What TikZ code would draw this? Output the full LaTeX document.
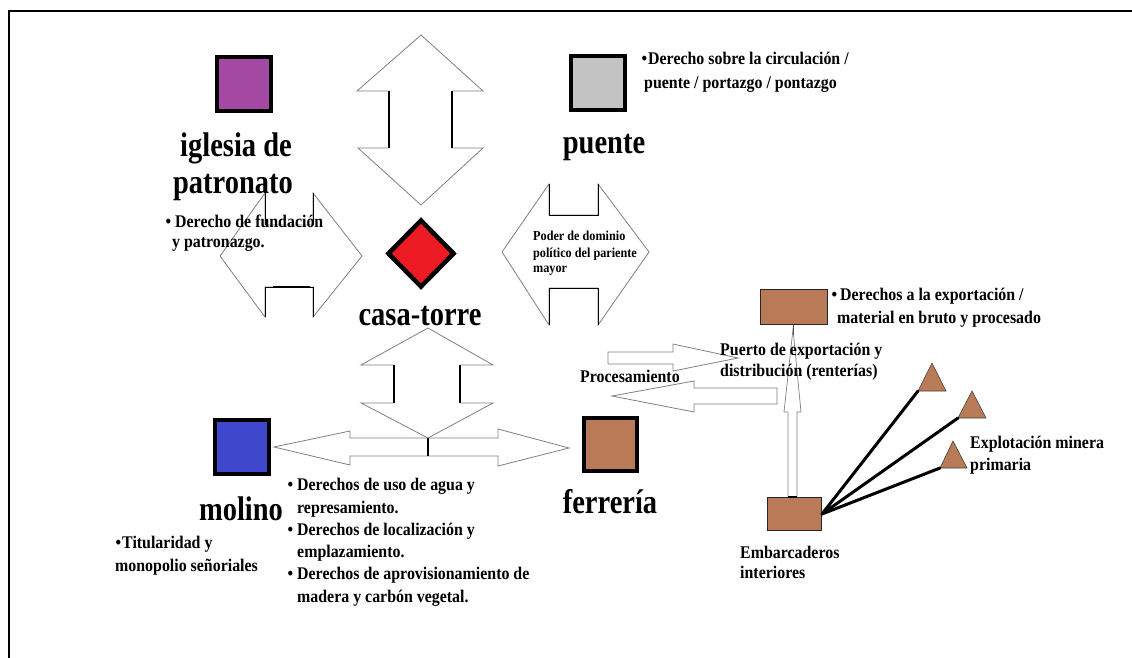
\documentclass[tikz,border=0pt]{standalone}
\usepackage{graphicx}
\usepackage{fontspec}
\setmainfont{Liberation Serif}
\usetikzlibrary{shapes.geometric}
\definecolor{cpurple}{HTML}{A349A4}
\definecolor{cblue}{HTML}{3F48CC}
\definecolor{cred}{HTML}{ED1C24}
\definecolor{cgray}{HTML}{C3C3C3}
\definecolor{cbrown}{HTML}{B97A57}
\definecolor{cline}{HTML}{808080}
\tikzset{
  big/.style={font=\fontsize{28.5}{30}\selectfont\bfseries, inner sep=0, anchor=base},
  txt/.style={font=\fontsize{15.9}{20}\selectfont\bfseries, inner sep=0, anchor=base west},
  sml/.style={font=\fontsize{12.2}{14}\selectfont\bfseries, inner sep=0, anchor=base west},
  sq/.style={draw=black, line width=4pt, minimum size=54pt, inner sep=0},
  flatbox/.style={draw=black!85, line width=1pt, fill=cbrown, inner sep=0},
  outline/.style={draw=cline, line width=0.8pt},
  shaft/.style={draw=black, line width=1.4pt},
  tri/.style={draw=black!75, line width=0.6pt, fill=cbrown},
  ray/.style={draw=black, line width=3pt, line cap=round}
}
\newcommand{\tallbig}[1]{\scalebox{1}[1.2]{#1}}
\newcommand{\talltxt}[1]{\scalebox{1}[1.12]{#1}}
\begin{document}
\begin{tikzpicture}[x=1pt,y=-1pt]
\useasboundingbox (0,0) rectangle (1132,657);
\fill[white] (0,0) rectangle (1132,657);
% frame
\draw[line width=2.6pt] (9,660) -- (9,11) -- (1135,11);

% ---------- block arrows ----------
% top vertical double arrow
\draw[outline] (421,35) -- (483,91) -- (452,91) -- (452,148) -- (483,148) -- (421,205)
  -- (358,148) -- (389,148) -- (389,91) -- (357,91) -- cycle;
\draw[shaft] (389,91) -- (389,148) (452,91) -- (452,148);

% left notched shape
\draw[outline] (265,193) -- (265,225) -- (313,225) -- (313,193) -- (362,256) -- (313,317)
  -- (313,287) -- (265,287) -- (265,317) -- (220,256) -- cycle;
\draw[draw=black, line width=1pt] (265,193) -- (265,225) (313,193) -- (313,225)
  (265,317) -- (265,287) -- (313,287) -- (313,317);
\draw[draw=black, line width=1.8pt] (273,287) -- (310,287);

% right notched shape
\draw[outline] (549,184) -- (549,215) -- (598,215) -- (598,184) -- (649,252) -- (598,325)
  -- (598,288) -- (549,288) -- (549,325) -- (502,252) -- cycle;
\draw[draw=black, line width=1pt] (549,184) -- (549,215) -- (598,215) -- (598,184)
  (549,325) -- (549,288) -- (598,288) -- (598,325);

% horizontal double arrow (molino - ferreria)
\draw[outline] (274,447) -- (350,431) -- (350,438) -- (498,438) -- (498,429) -- (569,448)
  -- (498,466) -- (498,456) -- (350,456) -- (350,465) -- cycle;
\draw[shaft] (428,438) -- (428,456);
% vertical double arrow below casa-torre
\draw[outline] (428,328) -- (493,365) -- (460,365) -- (460,403) -- (493,403) -- (428,438)
  -- (361,403) -- (394,403) -- (394,365) -- (361,365) -- cycle;
\draw[shaft] (394,365) -- (394,403) (460,365) -- (460,403);

% processing arrows
\draw[outline] (608,352) -- (673,352) -- (673,344) -- (738,358) -- (673,371) -- (673,364)
  -- (608,364) -- cycle;
\draw[outline] (612,396) -- (694,381) -- (694,388) -- (777,388) -- (777,404) -- (694,404)
  -- (694,412) -- cycle;

% ---------- squares and boxes ----------
\node[sq, fill=cpurple] (igl) at (244,83.5) {};
\node[sq, fill=cgray] (pue) at (598,83) {};
\node[sq, fill=cblue] (mol) at (242,447) {};
\node[sq, fill=cbrown, minimum size=53pt] (fer) at (610.5,444) {};
\node[diamond, draw=black, line width=4.5pt, fill=cred, inner sep=0,
      minimum width=67pt, minimum height=68pt] (casa) at (421,253.5) {};
\node[flatbox, minimum width=67pt, minimum height=35pt] (puerto) at (794,307) {};
\node[flatbox, minimum width=54pt, minimum height=33pt] (emb) at (794.5,514) {};

% vertical arrow embarcaderos -> puerto
\coordinate (uptip) at (793,329);
\draw[outline, line width=0.7pt] (emb.north -| 788,0) -- (788,412) -- (784,412) -- (uptip)
  -- (801,412) -- (797,412) -- (emb.north -| 797,0);
\draw[draw=black, line width=1.6pt] (788,497) -- (797,497);
\draw[draw=black!70, line width=0.8pt] (puerto.south -| uptip) -- ++(0,10);

% triangles
\draw[tri] (932,363) -- (946,391) -- (918,391) -- cycle;
\draw[tri] (972,391) -- (986,418) -- (958,418) -- cycle;
\draw[tri] (953,441) -- (967,468) -- (940,468) -- cycle;
\coordinate (t1) at (918,391);
\coordinate (t2) at (958,418);
\coordinate (t3) at (940,468);
\draw[ray] (t1) -- (emb.east);
\draw[ray] (t2) -- (emb.east);
\draw[ray] (t3) -- (emb.east);

% ---------- big labels ----------
\node[big] (l1) at (236,156) {\tallbig{iglesia de}};
\node[big] (l2) at (233,193) {\tallbig{patronato}};
\node[big] (l3) at (604,153) {\tallbig{puente}};
\node[big] (l4) at (420,325) {\tallbig{casa-torre}};
\node[big] (l5) at (241,520) {\tallbig{molino}};
\node[big] (l6) at (610,513) {\tallbig{ferrería}};

% ---------- small texts ----------
\node[txt] (a1) at (648,64) {\talltxt{\llap{•\hspace{1pt}}Derecho sobre la circulación /}};
\node[txt] (a2) at (644,88) {\talltxt{puente / portazgo / pontazgo}};

\node[txt] (b1) at (175,227) {\talltxt{\llap{•\hspace{4pt}}Derecho de fundación}};
\node[txt] (b2) at (172,247) {\talltxt{y patronazgo.}};

\node[sml] (c1) at (533,240) {\talltxt{Poder de dominio}};
\node[sml] (c2) at (533,257) {\talltxt{político del pariente}};
\node[sml] (c3) at (533,272) {\talltxt{mayor}};

\node[txt] (d1) at (840,300) {\talltxt{\llap{•\hspace{3pt}}Derechos a la exportación /}};
\node[txt] (d2) at (837,323) {\talltxt{material en bruto y procesado}};

\node[txt] (e1) at (720,355) {\talltxt{Puerto de exportación y}};
\node[txt] (e2) at (720,376) {\talltxt{distribución (renterías)}};
\node[txt] (f1) at (580,382) {\talltxt{Procesamiento}};

\node[txt] (g1) at (297,490) {\talltxt{\llap{•\hspace{4pt}}Derechos de uso de agua y}};
\node[txt] (g2) at (297,513) {\talltxt{represamiento.}};
\node[txt] (g3) at (297,535) {\talltxt{\llap{•\hspace{4pt}}Derechos de localización y}};
\node[txt] (g4) at (297,557) {\talltxt{emplazamiento.}};
\node[txt] (g5) at (297,579) {\talltxt{\llap{•\hspace{4pt}}Derechos de aprovisionamiento de}};
\node[txt] (g6) at (297,602) {\talltxt{madera y carbón vegetal.}};

\node[txt] (h1) at (122,548) {\talltxt{\llap{•\hspace{1pt}}Titularidad y}};
\node[txt] (h2) at (115,571) {\talltxt{monopolio señoriales}};

\node[txt] (i1) at (740,558) {\talltxt{Embarcaderos}};
\node[txt] (i2) at (740,578) {\talltxt{interiores}};

\node[txt] (j1) at (970,448) {\talltxt{Explotación minera}};
\node[txt] (j2) at (970,470) {\talltxt{primaria}};
\end{tikzpicture}
\end{document}
